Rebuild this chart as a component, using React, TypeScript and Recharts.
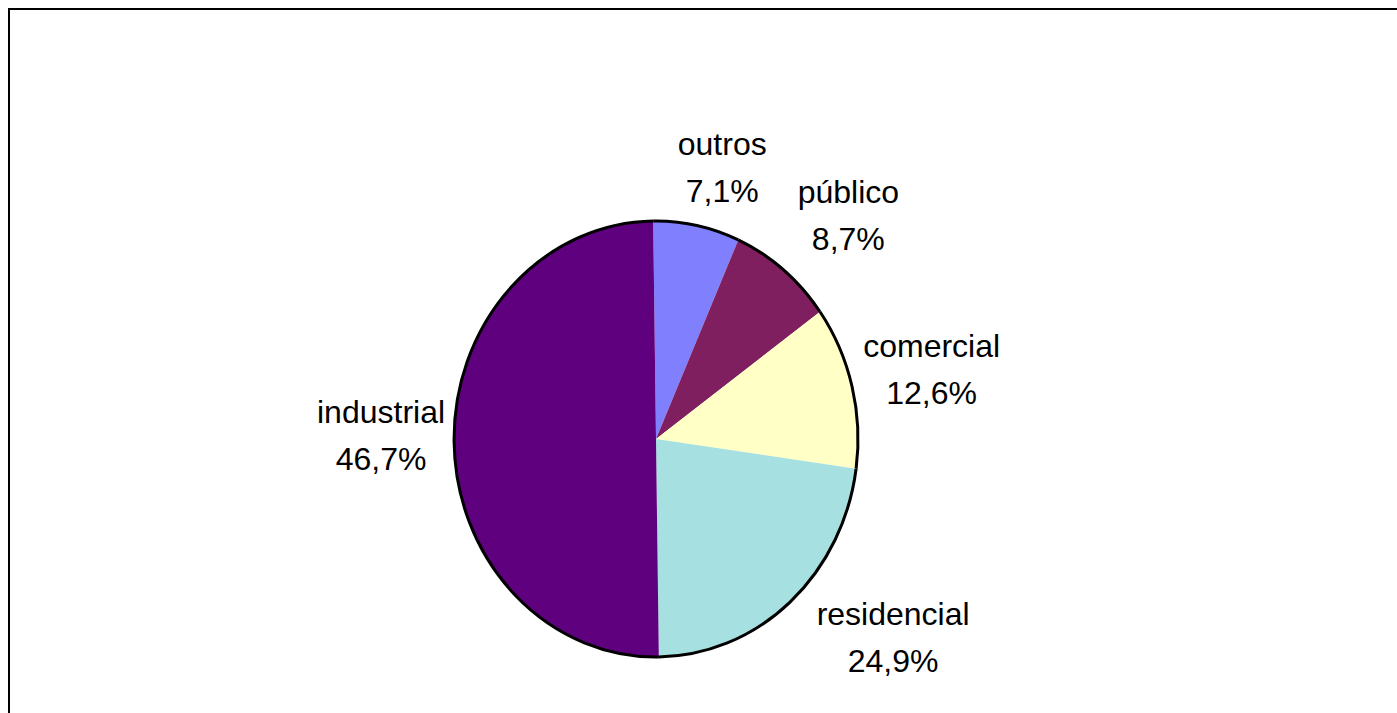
import { PieChart, Pie, Cell } from "recharts";

const categories = ["outros", "público", "comercial", "residencial", "industrial"];
// percentages printed on the labels
const shares = [7.1, 8.7, 12.6, 24.9, 46.7];
// sizes of the slices as they are drawn in the picture (industrial fills half the pie)
const sliceShares = [6.9, 8.4, 12.1, 22.6, 50.0];
const colors = ["#8080FF", "#7F1F5F", "#FFFFC6", "#A6E0E0", "#5F007F"];

const data = categories.map((name, i) => ({ name, value: sliceShares[i], share: shares[i] }));

// the original pie is a little taller than it is wide
const STRETCH = 218 / 202;
const RAD = Math.PI / 180;

// hand placement of the labels, as in the source sheet
const labelNudge: Record<string, [number, number]> = {
  outros: [9, 7],
  público: [13, -3],
  comercial: [0, -1],
  residencial: [49, -14],
  industrial: [9, -7],
};

function EllipseSlice(props: any) {
  const { cx, cy, outerRadius, startAngle, endAngle, fill } = props;
  const rx = outerRadius;
  const ry = outerRadius * STRETCH;
  const pt = (a: number) => [cx + rx * Math.cos(a * RAD), cy - ry * Math.sin(a * RAD)];
  const [x1, y1] = pt(startAngle);
  const [x2, y2] = pt(endAngle);
  const large = Math.abs(startAngle - endAngle) > 180 ? 1 : 0;
  const sweep = startAngle > endAngle ? 1 : 0;
  const arc = `A${rx},${ry} 0 ${large} ${sweep} ${x2},${y2}`;
  return (
    <g>
      <path d={`M${cx},${cy} L${x1},${y1} ${arc} Z`} fill={fill} stroke="none" />
      <path d={`M${x1},${y1} ${arc}`} fill="none" stroke="#000" strokeWidth={3} />
    </g>
  );
}

function renderLabel(props: any) {
  const { cx, cy, midAngle, outerRadius, name, payload } = props;
  const share = payload?.share ?? props.share;
  const r = outerRadius + 82;
  const [nx, ny] = labelNudge[name] || [0, 0];
  const x = cx + r * Math.cos(midAngle * RAD) + nx;
  const yc = cy - r * Math.sin(midAngle * RAD) + ny;
  const b1 = yc - 12.5;
  return (
    <text
      x={x}
      y={b1}
      textAnchor="middle"
      fontFamily="'Liberation Sans', Arial, sans-serif"
      fontSize={32}
      fill="#000"
    >
      <tspan x={x} y={b1}>{name}</tspan>
      <tspan x={x} y={b1 + 47}>{Number(share).toFixed(1).replace(".", ",")}%</tspan>
    </text>
  );
}

export default function App() {
  return (
    <div
      style={{
        position: "absolute",
        left: 8,
        top: 8,
        width: 1389,
        height: 705,
        boxSizing: "border-box",
        borderTop: "2px solid #000",
        borderLeft: "2px solid #000",
        background: "#fff",
        overflow: "hidden",
      }}
    >
      <PieChart width={1387} height={703} margin={{ top: 0, right: 0, bottom: 0, left: 0 }}>
        <Pie
          data={data}
          dataKey="value"
          nameKey="name"
          cx={646}
          cy={429}
          innerRadius={0}
          outerRadius={202}
          startAngle={90.8}
          endAngle={-269.2}
          stroke="none"
          shape={EllipseSlice}
          inactiveShape={EllipseSlice}
          activeShape={EllipseSlice}
          label={renderLabel}
          labelLine={false}
          isAnimationActive={false}
        >
          {data.map((d, i) => (
            <Cell key={d.name} fill={colors[i]} />
          ))}
        </Pie>
      </PieChart>
    </div>
  );
}
